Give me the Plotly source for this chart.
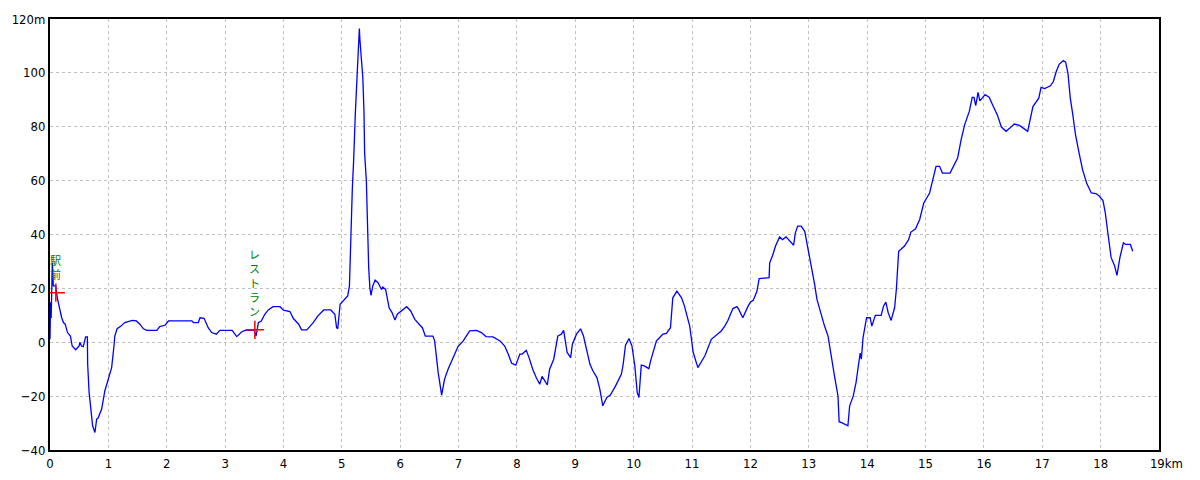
import plotly.graph_objects as go

# distance (km) and elevation (m)
dist_km = [0.00, 0.01, 0.02, 0.04, 0.057, 0.097, 0.125, 0.17, 0.20, 0.23, 0.26, 0.30, 0.35, 0.38, 0.44, 0.50, 0.51, 0.54, 0.57, 0.61,
           0.64, 0.645, 0.67, 0.70, 0.73, 0.77, 0.80, 0.82, 0.885, 0.94, 1.00, 1.056, 1.096, 1.11, 1.15, 1.21, 1.28, 1.41, 1.48, 1.54,
           1.60, 1.66, 1.83, 1.88, 1.97, 2.03, 2.43, 2.46, 2.54, 2.57, 2.64, 2.71, 2.77, 2.85, 2.91, 3.12, 3.20, 3.28, 3.34, 3.50,
           3.53, 3.57, 3.62, 3.68, 3.74, 3.82, 3.94, 4.00, 4.11, 4.17, 4.26, 4.31, 4.40, 4.51, 4.59, 4.69, 4.81, 4.88, 4.91, 4.93,
           4.97, 5.03, 5.10, 5.13, 5.14, 5.15, 5.17, 5.18, 5.20, 5.21, 5.23, 5.25, 5.27, 5.29, 5.30, 5.31, 5.32, 5.34, 5.36, 5.38,
           5.39, 5.42, 5.43, 5.45, 5.46, 5.48, 5.50, 5.53, 5.57, 5.62, 5.68, 5.70, 5.75, 5.78, 5.81, 5.86, 5.91, 5.95, 6.02, 6.11,
           6.18, 6.25, 6.34, 6.38, 6.43, 6.56, 6.59, 6.62, 6.65, 6.71, 6.76, 6.82, 6.91, 6.99, 7.08, 7.19, 7.31, 7.39, 7.47, 7.59,
           7.71, 7.79, 7.85, 7.91, 7.98, 8.05, 8.09, 8.16, 8.21, 8.27, 8.33, 8.39, 8.43, 8.47, 8.52, 8.56, 8.63, 8.70, 8.76, 8.80,
           8.86, 8.92, 8.95, 9.02, 9.09, 9.14, 9.19, 9.25, 9.30, 9.37, 9.42, 9.47, 9.54, 9.60, 9.69, 9.79, 9.82, 9.86, 9.92, 9.97,
           10.02, 10.06, 10.09, 10.13, 10.18, 10.26, 10.29, 10.33, 10.39, 10.43, 10.50, 10.56, 10.63, 10.67, 10.74, 10.82, 10.87, 10.96, 11.02, 11.10,
           11.22, 11.33, 11.42, 11.50, 11.56, 11.61, 11.70, 11.77, 11.80, 11.87, 11.96, 12.00, 12.05, 12.11, 12.15, 12.32, 12.33, 12.38, 12.43, 12.50,
           12.55, 12.61, 12.74, 12.77, 12.81, 12.87, 12.93, 12.98, 13.04, 13.10, 13.14, 13.20, 13.27, 13.33, 13.38, 13.44, 13.50, 13.52, 13.58, 13.67,
           13.70, 13.76, 13.81, 13.86, 13.88, 13.90, 13.93, 13.99, 14.05, 14.08, 14.14, 14.24, 14.28, 14.32, 14.36, 14.41, 14.47, 14.50, 14.54, 14.64,
           14.71, 14.75, 14.83, 14.90, 14.97, 15.07, 15.12, 15.18, 15.24, 15.29, 15.42, 15.50, 15.55, 15.61, 15.67, 15.75, 15.80, 15.83, 15.86, 15.90,
           15.93, 16.02, 16.09, 16.15, 16.23, 16.30, 16.38, 16.44, 16.52, 16.61, 16.75, 16.84, 16.94, 16.98, 17.04, 17.14, 17.19, 17.24, 17.29, 17.36,
           17.40, 17.44, 17.48, 17.52, 17.57, 17.63, 17.69, 17.76, 17.84, 17.92, 17.98, 18.04, 18.08, 18.12, 18.18, 18.24, 18.28, 18.33, 18.39, 18.43,
           18.51, 18.55]

elev_m = [1.1, 14.8, 9.0, 29.6, 20.9, 20.9, 16.5, 11.6, 9.1, 7.3, 6.7, 3.6, 2.3, -1.4, -2.8, -1.4, 0.0, -1.4, -1.6, 2.0,
          2.0, -8.1, -18.6, -24.8, -31.0, -33.5, -28.5, -28.3, -24.8, -18.0, -13.7, -9.4, -1.4, 2.3, 5.0, 5.9, 7.3, 8.1, 7.9, 6.7,
          5.0, 4.4, 4.4, 5.8, 6.3, 7.9, 7.9, 7.3, 7.3, 9.1, 8.9, 5.4, 3.6, 3.0, 4.4, 4.4, 2.1, 3.8, 4.4, 4.4,
          2.3, 7.3, 7.9, 10.4, 12.0, 13.2, 13.2, 11.9, 11.4, 8.8, 6.7, 4.6, 4.6, 7.3, 9.8, 12.0, 12.0, 10.4, 5.4, 5.0,
          14.1, 15.6, 17.2, 20.9, 29.6, 39.4, 48.0, 57.3, 66.5, 75.2, 84.4, 93.7, 103.0, 112.2, 116.5, 112.2, 108.5, 103.6, 98.0, 85.0,
          70.3, 59.8, 48.6, 38.1, 27.7, 20.2, 17.4, 20.9, 23.1, 22.1, 19.6, 20.5, 19.6, 16.2, 12.8, 11.0, 8.3, 10.4, 11.6, 13.2,
          11.6, 8.5, 6.3, 5.4, 2.3, 2.3, 0.5, -6.3, -11.2, -19.6, -13.7, -10.0, -5.7, -1.6, 0.5, 4.2, 4.4, 3.6, 2.1, 2.0,
          0.5, -1.4, -4.4, -7.8, -8.5, -4.4, -4.4, -3.0, -5.9, -10.0, -13.1, -15.6, -12.7, -14.0, -15.8, -10.0, -6.3, 2.3, 3.0, 4.4,
          -3.8, -5.7, -0.7, 3.0, 5.0, 2.3, -2.6, -8.1, -10.6, -13.1, -17.4, -23.6, -20.5, -19.6, -16.2, -11.8, -8.1, -1.1, 1.4, -1.4,
          -8.8, -18.6, -20.5, -8.5, -8.8, -9.8, -6.9, -4.1, 0.5, 1.4, 3.0, 3.3, 5.4, 16.5, 19.0, 16.5, 13.4, 6.0, -3.8, -9.4,
          -5.0, 1.1, 2.6, 4.2, 6.0, 7.9, 12.5, 13.2, 12.2, 9.1, 13.4, 14.9, 15.7, 18.8, 23.6, 24.0, 29.5, 32.2, 35.7, 39.1,
          38.1, 39.1, 36.0, 40.6, 43.1, 43.1, 41.2, 35.3, 29.5, 21.5, 15.9, 11.0, 6.0, 2.3, -5.0, -12.5, -19.9, -29.5, -30.0, -31.0,
          -23.6, -20.1, -14.9, -6.3, -4.0, -6.3, 1.7, 9.1, 9.1, 6.0, 10.0, 10.0, 13.4, 14.9, 11.0, 8.1, 12.8, 19.6, 33.8, 35.7,
          38.1, 40.9, 42.1, 45.6, 51.7, 55.4, 60.4, 65.3, 65.3, 62.8, 62.8, 65.9, 68.4, 75.2, 80.7, 85.7, 90.9, 90.9, 87.8, 92.8,
          89.6, 91.9, 91.0, 88.1, 84.4, 79.9, 78.3, 79.4, 81.0, 80.5, 78.3, 87.5, 90.6, 94.6, 94.2, 95.2, 96.8, 100.5, 103.2, 104.6,
          104.0, 99.9, 90.6, 85.0, 77.0, 70.3, 64.1, 59.1, 55.4, 55.2, 54.2, 52.6, 48.0, 41.2, 31.4, 28.3, 24.8, 31.4, 36.9, 36.3,
          36.3, 33.8]

# waypoint markers
poi_km = [0.10, 3.51]
poi_m = [18.4, 4.6]
poi_labels = ["駅前", "レストラン"]

# axis ticks
x_ticks = list(range(0, 20))
x_ticktext = [str(v) for v in range(0, 19)] + ["\u00a0\u00a0\u00a0\u00a019km"]
y_ticks = [-40, -20, 0, 20, 40, 60, 80, 100, 120]
y_ticktext = ["\u221240", "\u221220", "0", "20", "40", "60", "80", "100", "120m"]

FONT = "Liberation Sans Narrow, DejaVu Sans Condensed, Arial Narrow, sans-serif"

fig = go.Figure()
fig.add_trace(go.Scatter(x=dist_km, y=elev_m, mode="lines",
                         line=dict(color="#0000ff", width=1.3), hoverinfo="skip", showlegend=False))
fig.add_trace(go.Scatter(x=poi_km, y=poi_m, mode="markers",
                         marker=dict(symbol="cross-thin", size=13, line=dict(color="#ff0000", width=1.5)),
                         hoverinfo="skip", showlegend=False))

# vertical labels: one character per line stacked above the marker
for xk, ym, label in zip(poi_km, poi_m, poi_labels):
    fig.add_annotation(x=xk, y=ym, xref="x", yref="y", text="<br>".join(label), showarrow=False,
                       xanchor="center", yanchor="bottom", yshift=10,
                       borderpad=0,
                       font=dict(family="Noto Sans CJK JP", size=11, color="#008000"))

axis_common = dict(showline=True, linecolor="black", linewidth=2, mirror=True,
                   showgrid=True, gridcolor="#c0c0c0", griddash="3px,3px", gridwidth=1,
                   zeroline=False, ticks="", tickfont=dict(family=FONT, size=13, color="black"))

fig.update_xaxes(range=[0, 19], tickmode="array", tickvals=x_ticks, ticktext=x_ticktext, **axis_common)
fig.update_yaxes(range=[-40, 120], tickmode="array", tickvals=y_ticks, ticktext=y_ticktext, **axis_common)

# page body has an 8px margin; size the figure so the plot box lands at x 50..1159, y 19..450
fig.update_layout(width=1184, height=464, margin=dict(l=42, r=33, t=11, b=22, autoexpand=False),
                  paper_bgcolor="white", plot_bgcolor="white")

fig.write_html("out.html")
